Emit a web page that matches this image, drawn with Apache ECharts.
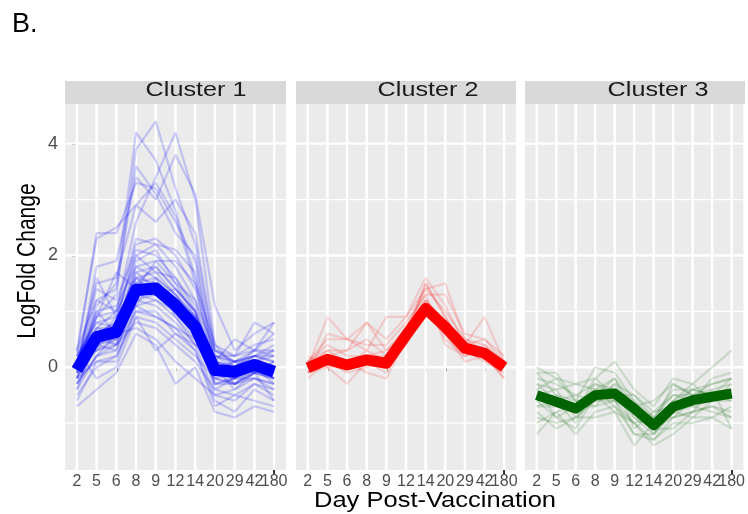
<!DOCTYPE html>
<html><head><meta charset="utf-8">
<script src="https://cdn.jsdelivr.net/npm/echarts@6/dist/echarts.min.js"></script>
<style>html,body{margin:0;padding:0;background:#fff}#c{width:748px;height:514px}</style>
</head><body><div id="c"></div>
<script>
const days = ['2','5','6','8','9','12','14','20','29','42','180'];
const yTicksMajor = [0, 2, 4];
const yGridMajor = [0, 2, 4];
const yGridMinor = [-1, 1, 3];
const clusterNames = ['Cluster 1', 'Cluster 2', 'Cluster 3'];

const c1Mean = [-0.05, 0.54, 0.63, 1.38, 1.41, 1.11, 0.72, -0.05, -0.08, 0.04, -0.08];
const c2Mean = [-0.01, 0.14, 0.04, 0.13, 0.07, 0.57, 1.05, 0.72, 0.34, 0.25, 0.0];
const c3Mean = [-0.50, -0.62, -0.74, -0.50, -0.47, -0.74, -1.04, -0.71, -0.59, -0.53, -0.47];

const c1Genes = [
 [-0.2, 1.1, 1.5, 4.2, 3.7, 2.8, 1.6, 0.1, -0.3, 0.0, -0.2],
 [0.1, 0.9, 1.3, 3.9, 4.4, 3.2, 2.2, 0.3, 0.1, 0.2, 0.4],
 [0.0, 0.7, 1.0, 2.6, 3.4, 4.2, 3.0, 0.4, 0.0, -0.1, 0.1],
 [0.2, 2.4, 2.4, 3.3, 3.2, 2.6, 1.9, 0.0, -0.2, 0.1, 0.3],
 [-0.1, 1.8, 1.9, 3.4, 3.0, 3.8, 3.1, 1.1, 0.3, 0.6, 0.8],
 [0.3, 2.3, 2.5, 2.9, 3.3, 2.7, 1.5, -0.1, -0.3, -0.1, 0.0],
 [0.0, 1.2, 1.4, 3.6, 3.1, 2.4, 2.0, 0.2, 0.2, 0.4, 0.5],
 [0.1, 1.5, 1.6, 2.9, 2.6, 3.0, 2.4, 0.3, 0.1, 0.2, 0.2],
 [0.1, 0.9, 1.0, 2.3, 2.2, 1.8, 1.2, 0.0, -0.1, 0.0, -0.1],
 [-0.2, 0.6, 0.8, 2.2, 2.3, 2.0, 1.4, 0.1, 0.0, 0.1, 0.0],
 [0.0, 1.4, 1.2, 2.1, 2.0, 1.6, 1.0, -0.2, -0.3, -0.1, -0.2],
 [0.2, 0.8, 0.9, 2.0, 2.2, 2.1, 1.7, 0.2, 0.1, 0.2, 0.3],
 [-0.3, 0.4, 0.6, 1.9, 2.1, 1.5, 0.9, -0.3, -0.2, 0.0, -0.3],
 [0.1, 1.0, 1.1, 1.8, 1.9, 1.9, 1.5, 0.4, 0.2, 0.3, 0.6],
 [-0.1, 0.7, 0.7, 1.7, 1.8, 1.4, 1.0, 0.0, -0.1, 0.1, 0.0],
 [0.0, 0.5, 0.5, 1.6, 1.7, 1.6, 1.1, -0.1, -0.2, -0.1, -0.2],
 [0.3, 1.2, 1.0, 1.6, 1.5, 1.2, 0.8, 0.1, 0.0, 0.2, 0.1],
 [-0.4, 0.2, 0.4, 1.5, 1.6, 1.3, 0.8, -0.4, -0.5, -0.3, -0.4],
 [0.0, 0.6, 0.8, 1.5, 1.4, 1.2, 0.9, 0.0, 0.1, 0.1, 0.2],
 [-0.1, 0.3, 0.5, 1.4, 1.5, 1.1, 0.6, -0.2, -0.1, 0.0, -0.1],
 [0.1, 0.5, 0.6, 1.3, 1.3, 1.0, 0.7, 0.1, 0.0, 0.1, 0.0],
 [-0.2, 0.4, 0.3, 1.3, 1.2, 0.9, 0.5, -0.3, -0.3, -0.2, -0.3],
 [0.2, 0.8, 0.7, 1.2, 1.3, 1.1, 0.8, 0.2, 0.1, 0.3, 0.2],
 [-0.3, 0.2, 0.3, 1.2, 1.1, 0.8, 0.4, -0.5, -0.6, -0.3, -0.5],
 [0.0, 0.4, 0.5, 1.1, 1.2, 1.0, 0.6, -0.1, -0.2, 0.0, -0.1],
 [-0.5, 0.0, 0.2, 1.0, 1.0, 0.6, 0.3, -0.6, -0.8, -0.4, -0.6],
 [0.1, 0.3, 0.4, 1.0, 0.9, 0.7, 0.5, 0.0, -0.1, 0.1, 0.0],
 [-0.2, 0.1, 0.2, 0.9, 0.8, 0.5, 0.2, -0.2, -0.3, -0.1, -0.2],
 [0.0, 0.6, 0.4, 0.8, 0.7, 0.4, 0.1, -0.4, -0.2, 0.0, -0.1],
 [-0.7, -0.4, -0.1, 0.6, 0.4, -0.3, 0.0, -0.8, -0.9, -0.7, -0.8],
 [-0.3, 0.2, 0.6, 0.7, 0.5, 0.1, -0.2, -0.5, -0.4, -0.2, -0.4],
 [0.3, -0.2, 0.0, 0.9, 0.3, 0.6, 0.4, 0.1, 0.5, 0.3, 0.8],
 [-0.1, 0.9, 1.7, 1.4, 1.9, 1.5, 1.2, 0.3, 0.2, 0.8, 0.6],
 [0.0, 1.6, 0.9, 2.0, 1.7, 1.3, 0.9, -0.1, 0.1, -0.1, 0.1],
 [-0.4, 0.5, 0.4, 1.6, 1.3, 1.4, 1.0, 0.0, -0.4, -0.1, -0.6],
 [0.2, 0.3, 0.8, 1.1, 1.6, 0.9, 0.4, 0.2, 0.0, 0.3, 0.3],
 [-0.2, 0.7, 0.6, 1.8, 1.6, 1.3, 0.9, -0.3, -0.2, -0.2, -0.3],
 [0.1, 0.5, 0.9, 1.5, 1.8, 1.4, 1.0, -0.1, 0.0, 0.2, 0.1],
 [-0.6, 0.1, 0.1, 1.1, 0.9, 0.7, 0.3, -0.7, -0.5, -0.6, -0.7],
 [0.0, 1.0, 0.6, 1.7, 1.4, 1.2, 0.7, 0.0, -0.1, 0.0, -0.2]
];

const c2Genes = [
 [0.0, 0.9, 0.5, 0.8, 0.3, 0.6, 1.2, 0.8, 0.4, 0.3, 0.0],
 [0.1, 0.5, 0.5, 0.3, 0.9, 0.9, 1.4, 1.5, 0.5, 0.4, 0.1],
 [-0.1, 0.2, 0.3, 0.8, 0.5, 0.9, 1.6, 1.1, 0.4, 0.9, 0.1],
 [-0.1, 0.0, -0.3, 0.1, 0.0, 0.6, 1.5, 0.9, 0.3, 0.2, -0.2],
 [0.1, 0.4, 0.2, 0.2, 0.3, 0.7, 1.3, 1.3, 0.6, 0.5, 0.2],
 [-0.2, 0.1, 0.1, -0.1, -0.2, 0.5, 1.2, 0.5, 0.2, 0.3, 0.0],
 [0.0, 0.3, 0.3, 0.5, 0.2, 0.5, 1.1, 0.6, 0.3, 0.1, -0.1],
 [0.2, 0.0, 0.0, 0.2, 0.2, 0.7, 1.4, 1.0, 0.5, 0.3, 0.1],
 [-0.1, 0.6, 0.5, 0.4, 0.4, 0.8, 1.3, 0.4, 0.2, 0.4, 0.0],
 [0.0, 0.1, -0.1, 0.0, 0.1, 0.4, 1.0, 0.6, 0.1, 0.2, -0.2],
 [0.1, 0.3, 0.1, 0.1, -0.1, 0.6, 1.2, 0.8, 0.4, 0.5, 0.1],
 [-0.1, 0.2, 0.0, 0.3, 0.1, 0.5, 1.5, 0.9, 0.3, 0.3, 0.0]
];

const c3Genes = [
 [0.0, -0.2, -0.3, -0.2, 0.1, -0.4, -0.7, -0.2, -0.3, 0.0, 0.3],
 [-0.1, -0.1, -0.6, 0.0, -0.1, -0.6, -0.9, -0.4, -0.4, -0.3, -0.2],
 [-0.3, -0.4, -0.3, -0.4, -0.2, -0.7, -0.6, -0.3, -0.5, -0.4, -0.3],
 [-0.5, -0.7, -0.8, -0.3, -0.5, -0.9, -1.1, -0.9, -0.6, -0.5, -0.6],
 [-0.9, -1.0, -0.9, -0.6, -0.6, -1.2, -1.3, -0.9, -0.8, -0.7, -0.8],
 [-1.2, -0.8, -1.2, -0.8, -0.7, -1.0, -1.4, -1.2, -0.9, -0.9, -1.1],
 [-0.2, -0.3, -0.5, -0.6, -0.3, -0.5, -0.8, -0.5, -0.5, -0.3, -0.2],
 [-0.7, -0.6, -1.0, -0.4, -0.4, -0.6, -1.2, -0.8, -0.7, -0.6, -0.4],
 [-0.4, -0.9, -0.7, -0.5, -0.8, -1.4, -1.0, -0.6, -0.7, -0.8, -0.9],
 [-0.6, -0.5, -0.6, -0.7, -0.3, -1.1, -0.8, -0.7, -0.4, -0.5, -0.5],
 [-0.8, -1.1, -0.9, -0.9, -0.8, -1.0, -1.3, -1.0, -1.0, -0.9, -0.7],
 [-0.1, -0.5, -0.8, -0.2, -0.5, -0.5, -0.9, -0.5, -0.6, -0.2, -0.1],
 [-0.5, -0.4, -0.9, -0.5, -0.2, -0.9, -1.2, -0.6, -0.3, -0.6, -0.6],
 [-1.0, -0.8, -0.7, -0.7, -0.6, -0.8, -1.1, -1.1, -0.8, -0.7, -0.9],
 [-0.3, -0.6, -0.5, -0.3, -0.4, -0.8, -1.0, -0.3, -0.5, -0.5, -0.2],
 [-0.6, -0.9, -1.1, -0.5, -0.6, -1.0, -0.9, -0.9, -0.8, -0.4, -1.1],
 [-0.4, -0.2, -0.6, -0.6, -0.5, -0.7, -1.1, -0.6, -0.4, -0.5, -0.4],
 [-0.7, -0.7, -0.8, -0.4, -0.7, -1.2, -1.2, -0.8, -0.9, -0.6, -0.3]
];

const XMIN = -0.6, XMAX = days.length - 1 + 0.6;
const YMIN = -1.84, YMAX = 4.71;
const FONT = 'Liberation Sans, Arial, sans-serif';

const panels = [
  {left: 65, width: 221, mean: c1Mean, genes: c1Genes, thin: 'rgba(0,0,255,0.18)', thick: '#0000FF', lw: 12, stripX: 196},
  {left: 296, width: 220, mean: c2Mean, genes: c2Genes, thin: 'rgba(255,0,0,0.14)', thick: '#FF0000', lw: 11, stripX: 428},
  {left: 525, width: 220, mean: c3Mean, genes: c3Genes, thin: 'rgba(0,100,0,0.15)', thick: '#006400', lw: 10, stripX: 658}
];
const TOP = 104, HEIGHT = 366;

const grid = [], xAxis = [], yAxis = [], series = [], graphic = [];
const catIdx = days.map((d, i) => i);
const lastIdx = [days.length - 1];
const firstIdx = catIdx.slice(0, days.length - 1);
const gridData = [];
yGridMinor.forEach(v => gridData.push([0, v, 1.2]));
yGridMajor.forEach(v => gridData.push([0, v, 2.4]));
catIdx.forEach(i => gridData.push([1, i, 2.4]));

function makeX(k, vals) {
  return {type: 'value', gridIndex: k, position: 'bottom', offset: 0, min: XMIN, max: XMAX,
    axisLine: {show: true, lineStyle: {color: 'rgba(0,0,0,0)'}}, splitLine: {show: false},
    axisTick: {show: true, customValues: vals, length: 4, lineStyle: {color: '#333333', width: 2}},
    axisLabel: {show: true, customValues: vals, formatter: v => days[Math.round(v)],
      showMinLabel: true, showMaxLabel: true, hideOverlap: false,
      fontSize: 16, color: '#4D4D4D', fontFamily: FONT, margin: 4}
  };
}

panels.forEach((p, k) => {
  grid.push({left: p.left, top: TOP, width: p.width, height: HEIGHT, show: true,
    backgroundColor: '#EBEBEB', borderWidth: 0, containLabel: false});
  xAxis[k] = makeX(k, firstIdx);
  xAxis[3 + k] = makeX(k, lastIdx);
  yAxis.push({type: 'value', gridIndex: k, min: YMIN, max: YMAX,
    axisLine: {show: k === 0, lineStyle: {color: 'rgba(0,0,0,0)'}}, splitLine: {show: false},
    axisTick: {show: k === 0, customValues: yTicksMajor, length: 5, lineStyle: {color: '#333333', width: 2}},
    axisLabel: {show: k === 0, customValues: yTicksMajor, formatter: v => String(v),
      showMinLabel: true, showMaxLabel: true, hideOverlap: false,
      fontSize: 18, color: '#4D4D4D', fontFamily: FONT, margin: 7}
  });
  series.push({type: 'custom', xAxisIndex: k, yAxisIndex: k, silent: true, z: 1, clip: false,
    data: gridData,
    renderItem: function (params, api) {
      const dir = api.value(0), v = api.value(1), w = api.value(2);
      let a, b;
      if (dir === 0) { a = api.coord([XMIN, v]); b = api.coord([XMAX, v]); }
      else { a = api.coord([v, YMIN]); b = api.coord([v, YMAX]); }
      return {type: 'line', shape: {x1: a[0], y1: a[1], x2: b[0], y2: b[1]},
        style: {stroke: '#FFFFFF', lineWidth: w}};
    }
  });
  p.genes.forEach(g => {
    series.push({type: 'line', xAxisIndex: k, yAxisIndex: k, silent: true, z: 2,
      symbol: 'none', data: g.map((v, i) => [i, v]),
      lineStyle: {color: p.thin, width: 2.2}});
  });
  series.push({type: 'line', xAxisIndex: k, yAxisIndex: k, silent: true, z: 3,
    symbol: 'none', data: p.mean.map((v, i) => [i, v]),
    lineStyle: {color: p.thick, width: p.lw, join: 'round', cap: 'butt'}});
  graphic.push({type: 'rect', shape: {x: p.left, y: 81, width: p.width, height: 23},
    style: {fill: '#D9D9D9'}, silent: true});
  graphic.push({type: 'text', x: p.stripX, y: 90, scaleX: 1.2,
    style: {text: clusterNames[k], fontSize: 21, fontFamily: FONT, fill: '#1A1A1A',
      align: 'center', verticalAlign: 'middle'}, silent: true});
});

graphic.push({type: 'text', x: 12, y: 25,
  style: {text: 'B.', fontSize: 27, fontFamily: FONT, fill: '#000000', align: 'left', verticalAlign: 'middle'}});
graphic.push({type: 'text', x: 28, y: 261, rotation: Math.PI / 2, scaleY: 1.25,
  style: {text: 'LogFold Change', fontSize: 21, fontFamily: FONT, fill: '#000000', align: 'center', verticalAlign: 'middle'}});
graphic.push({type: 'text', x: 435, y: 501, scaleX: 1.16,
  style: {text: 'Day Post-Vaccination', fontSize: 22, fontFamily: FONT, fill: '#000000', align: 'center', verticalAlign: 'middle'}});

const chart = echarts.init(document.getElementById('c'), null, {renderer: 'canvas'});
chart.setOption({animation: false, backgroundColor: '#FFFFFF', grid, xAxis, yAxis, series, graphic});
</script></body></html>
